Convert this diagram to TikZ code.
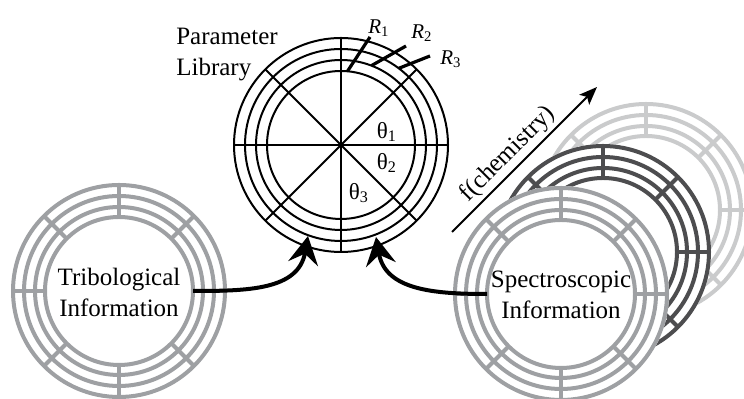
\documentclass[tikz,border=0pt]{standalone}
\usepackage{fontspec}
\setmainfont{Liberation Serif}
\usetikzlibrary{arrows.meta,calc}
\definecolor{ringgray}{RGB}{158,160,163}
\definecolor{darkring}{RGB}{77,77,79}
\definecolor{lightring}{RGB}{202,203,204}

\begin{document}
\begin{tikzpicture}[x=0.5pt,y=0.5pt,
    ringline/.style={line width=2pt},
    libline/.style={line width=1pt},
    bigtext/.style={font=\fontsize{12.5}{15.5}\selectfont, align=center, inner sep=0pt},
    smalltext/.style={font=\fontsize{10.5}{12}\selectfont, inner sep=0pt},
    rmark/.style={line width=1.6pt},
    feed/.style={line width=2pt, -{Stealth[length=14pt,width=15pt,inset=5pt]}},
  ]
  \useasboundingbox (0,0) rectangle (744,399);

  % Centros de los discos
  \coordinate (lib) at (341,254);
  \coordinate (tribc) at (119,108);
  \coordinate (specc) at (561,105);
  \coordinate (darkc) at (603,147);
  \coordinate (lightc) at (646,189);

  % Discos de informacion (de atras hacia delante)
  \foreach \ctr/\tone in {lightc/lightring, darkc/darkring, specc/ringgray, tribc/ringgray} {
    \fill[white] (\ctr) circle (108);
    \foreach \r in {106,95,84,74}
      \draw[ringline, \tone] (\ctr) circle (\r);
    \foreach \a in {0,45,...,315}
      \draw[ringline, \tone] ($(\ctr)+(\a:74)$) -- ($(\ctr)+(\a:106)$);
  }

  % Biblioteca de parametros
  \foreach \r in {107,96,85,74}
    \draw[libline] (lib) circle (\r);
  \foreach \a in {0,45,90,135}
    \draw[libline] ($(lib)+(\a:107)$) -- ($(lib)+(\a+180:107)$);
  \node[bigtext, align=left] (param) at (227,344) {Parameter\\Library};

  % Radios
  \coordinate (r1in) at ($(lib)+(85:74)$);
  \coordinate (r2in) at ($(lib)+(69:85)$);
  \coordinate (r3in) at ($(lib)+(53:96)$);
  \coordinate (r1out) at (370,362);
  \coordinate (r2out) at (406,353);
  \coordinate (r3out) at (430,343);
  \draw[rmark] (r1in) -- (r1out);
  \draw[rmark] (r2in) -- (r2out);
  \draw[rmark] (r3in) -- (r3out);
  \node[smalltext] (r1) at (379,371) {\textit{R}\textsubscript{1}};
  \node[smalltext] (r2) at (422,366) {\textit{R}\textsubscript{2}};
  \node[smalltext] (r3) at (451,340) {\textit{R}\textsubscript{3}};

  % Angulos
  \node[smalltext, font=\fontsize{11.5}{13}\selectfont] (th1) at ($(lib)+(46,13)$) {θ\textsubscript{1}};
  \node[smalltext, font=\fontsize{11.5}{13}\selectfont] (th2) at ($(lib)+(46,-18)$) {θ\textsubscript{2}};
  \node[smalltext, font=\fontsize{11.5}{13}\selectfont] (th3) at ($(lib)+(18,-48)$) {θ\textsubscript{3}};

  % Textos de los discos
  \node[bigtext] (trib) at (119,107) {Tribological\\Information};
  \node[bigtext] (spec) at (561,104) {Spectroscopic\\Information};

  % Flecha de quimica
  \coordinate (chemstart) at (452,167);
  \coordinate (chemend) at (597,312);
  \draw[line width=1pt, -{Stealth[length=9pt,width=7pt,inset=2pt]}] (chemstart) --
    node[pos=0.46, sloped, above, bigtext, inner sep=1.5pt] (chem) {f(chemistry)} (chemend);

  % Flechas hacia la biblioteca
  \coordinate (tribout) at ($(tribc)+(74,0)$);
  \coordinate (specout) at ($(specc)+(-74,0)$);
  \coordinate (libin1) at (308,163);
  \coordinate (libin2) at (376,162);
  \draw[feed] (tribout) to[out=0, in=-100, looseness=1.1] (libin1);
  \draw[feed] (specout) to[out=180, in=-80, looseness=1.1] (libin2);
\end{tikzpicture}
\end{document}
